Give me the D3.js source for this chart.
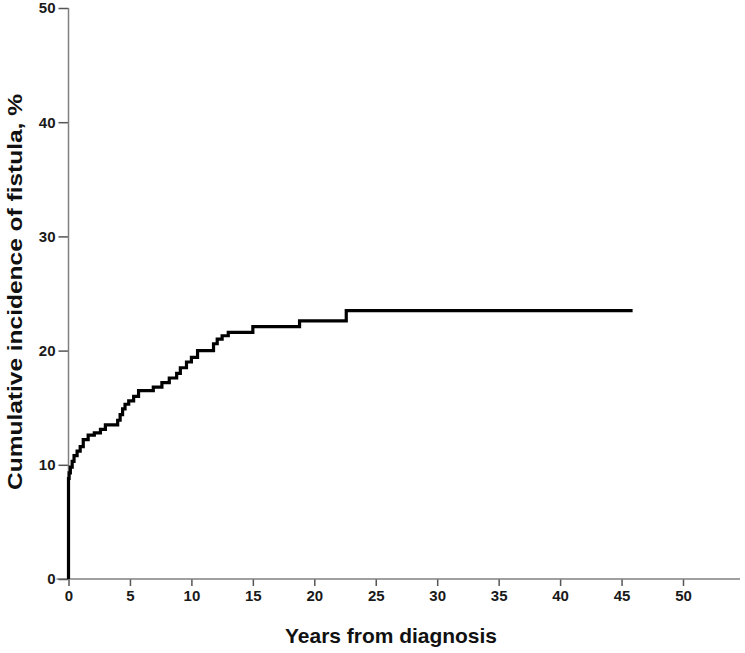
<!DOCTYPE html>
<html><head><meta charset="utf-8">
<script src="https://cdn.jsdelivr.net/npm/d3@7"></script>
<style>body{margin:0;background:#fff}svg{display:block}</style>
</head><body>
<svg id="c" width="745" height="653"></svg>
<script>
const stepTimes  = [0, 0.05, 0.15, 0.3, 0.45, 0.7, 0.95, 1.2, 1.6, 2.1, 2.6, 3.0, 4.0, 4.2, 4.4, 4.6, 4.9, 5.3, 5.7, 6.9, 7.6, 8.2, 8.8, 9.1, 9.6, 10.0, 10.5, 11.8, 12.1, 12.5, 13.0, 15.0, 18.8, 22.6];
const stepValues = [8.8, 9.3, 9.8, 10.3, 10.8, 11.2, 11.6, 12.2, 12.6, 12.8, 13.1, 13.5, 13.9, 14.4, 14.9, 15.3, 15.6, 16.0, 16.5, 16.8, 17.2, 17.6, 18.0, 18.5, 19.0, 19.4, 20.0, 20.6, 21.0, 21.3, 21.6, 22.1, 22.6, 23.5];
const followUpEnd = 45.9;
const xTicks = [0, 5, 10, 15, 20, 25, 30, 35, 40, 45, 50];
const yTicks = [0, 10, 20, 30, 40, 50];
const xTitle = "Years from diagnosis";
const yTitle = "Cumulative incidence of fistula, %";

const svg = d3.select("#c");
const x0 = 68.5, x50 = 683, y0 = 579, y50 = 8;
const x = d3.scaleLinear().domain([0, 50]).range([x0, x50]);
const y = d3.scaleLinear().domain([0, 50]).range([y0, y50]);

const pts = [[0, 0]];
stepTimes.forEach((t, i) => pts.push([t, stepValues[i]]));
pts.push([followUpEnd, stepValues[stepValues.length - 1]]);

const axisColor = "#808080";
const tickFont = "bold 15px 'Liberation Sans', Arial, sans-serif";
// x axis
const gx = svg.append("g").attr("transform", `translate(0,${y0})`)
  .call(d3.axisBottom(x).tickValues(xTicks).tickSize(7).tickSizeOuter(0).tickPadding(4).tickFormat(d3.format("d")));
gx.select(".domain").remove();
gx.append("line").attr("x1", x0 - 12).attr("x2", 740).attr("stroke", axisColor).attr("stroke-width", 1.5);
gx.selectAll(".tick line").attr("stroke", "#555").attr("stroke-width", 1.5);
gx.selectAll(".tick text").attr("fill", "#1a1a1a").style("font", tickFont);

// y axis
const gy = svg.append("g").attr("transform", `translate(${x0},0)`)
  .call(d3.axisLeft(y).tickValues(yTicks).tickSize(10).tickSizeOuter(0).tickPadding(3).tickFormat(d3.format("d")));
gy.select(".domain").remove();
gy.append("line").attr("y1", y0).attr("y2", y50).attr("stroke", axisColor).attr("stroke-width", 1.5);
gy.selectAll(".tick line").attr("stroke", "#555").attr("stroke-width", 1.5);
gy.selectAll(".tick text").attr("fill", "#1a1a1a").style("font", tickFont);

// curve
const line = d3.line().x(d => x(d[0])).y(d => y(d[1])).curve(d3.curveStepAfter);
svg.append("path").datum(pts).attr("d", line)
  .attr("fill", "none").attr("stroke", "#000").attr("stroke-width", 3.2).attr("stroke-linejoin", "miter");

// titles
svg.append("text").attr("x", 391).attr("y", 643).attr("text-anchor", "middle")
  .attr("textLength", 212).attr("lengthAdjust", "spacingAndGlyphs")
  .attr("fill", "#111").style("font", "bold 21px 'Liberation Sans', Arial, sans-serif").text(xTitle);
svg.append("text").attr("transform", "translate(22,292) rotate(-90)").attr("text-anchor", "middle")
  .attr("textLength", 396).attr("lengthAdjust", "spacingAndGlyphs")
  .attr("fill", "#111").style("font", "bold 21px 'Liberation Sans', Arial, sans-serif").text(yTitle);
</script>
</body></html>
